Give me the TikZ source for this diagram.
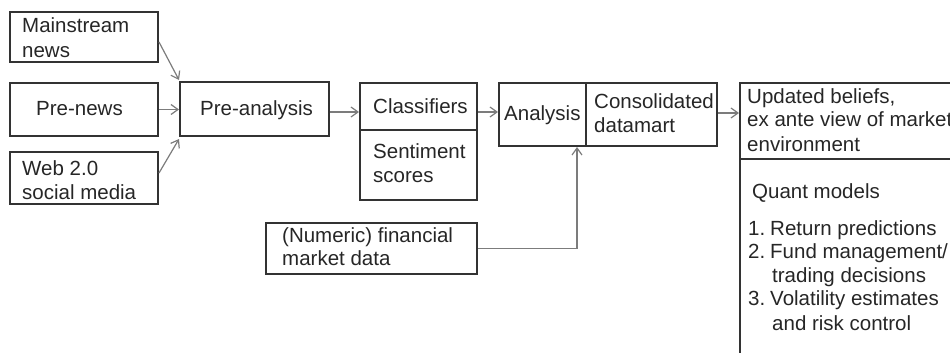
\documentclass[tikz,border=0pt]{standalone}
\usepackage{fontspec}
\setmainfont{Liberation Sans}
\usetikzlibrary{arrows.meta,calc}
\definecolor{boxline}{HTML}{333333}
\definecolor{arrowline}{HTML}{7C7C7C}
\definecolor{inktext}{HTML}{262626}

\begin{document}
\begin{tikzpicture}[x=1pt,y=-1pt,
  frame/.style={draw=boxline, line width=2pt, inner sep=0pt, minimum width=#1},
  txt/.style={inner sep=0pt, anchor=base west, text=inktext,
              font=\fontsize{20.5}{24}\selectfont},
  flow/.style={draw=arrowline, line width=1.2pt,
               -{Straight Barb[length=7pt,width=10pt]}}
]
\useasboundingbox (0,0) rectangle (950,353);
\clip (0,0) rectangle (950,353);

% source boxes
\node[frame=148pt, minimum height=50pt] (ms)  at (84,37)    {};
\node[frame=148pt, minimum height=53pt] (pn)  at (84,109.5) {};
\node[frame=148pt, minimum height=52pt] (web) at (84,178)   {};

% processing chain
\node[frame=149pt, minimum height=54pt] (pa)   at (254.5,109)   {};
\node[frame=117pt, minimum height=47pt] (cls)  at (418.5,106.5) {};
\node[frame=117pt, minimum height=70pt] (sent) at (418.5,165)   {};
\node[frame=87pt,  minimum height=63pt] (ana)  at (542.5,114.5) {};
\node[frame=131pt, minimum height=63pt] (cdm)  at (651.5,114.5) {};
\node[frame=211pt, minimum height=51pt] (num)  at (371.5,248.5) {};

% outcome panel
\node[frame=230pt, minimum height=76pt]  (bel) at (855,121)   {};
\node[frame=230pt, minimum height=211pt] (qm)  at (855,264.5) {};

% labels
\node[txt] (tms1) at (22,33)  {Mainstream};
\node[txt] (tms2) at (22,57)  {news};
\node[txt] (tpn)  at (36,115) {Pre-news};
\node[txt] (tw1)  at (22,175) {Web 2.0};
\node[txt] (tw2)  at (22,199) {social media};
\node[txt] (tpa)  at (200,115) {Pre-analysis};
\node[txt] (tcls) at (373,113) {Classifiers};
\node[txt] (ts1)  at (373,158) {Sentiment};
\node[txt] (ts2)  at (373,182) {scores};
\node[txt] (tana) at (504,120) {Analysis};
\node[txt] (tc1)  at (594,108) {Consolidated};
\node[txt] (tc2)  at (594,132) {datamart};
\node[txt] (tn1)  at (282,242) {(Numeric) financial};
\node[txt] (tn2)  at (282,265) {market data};
\node[txt] (tb1)  at (747,103) {Updated beliefs,};
\node[txt] (tb2)  at (747,126) {ex ante view of market};
\node[txt] (tb3)  at (747,151) {environment};
\node[txt] (tq)   at (752,198) {Quant models};
\node[txt] (tl1)  at (748,235) {1.};
\node[txt] (tl1b) at (770,235) {Return predictions};
\node[txt] (tl2)  at (748,258) {2.};
\node[txt] (tl2b) at (770,258) {Fund management/};
\node[txt] (tl2c) at (772,282) {trading decisions};
\node[txt] (tl3)  at (748,305) {3.};
\node[txt] (tl3b) at (770,305) {Volatility estimates};
\node[txt] (tl3c) at (772,330) {and risk control};

% connectors
\draw[flow] ($(ms.east)+(0,5)$) -- ($(pa.north west)+(0,-1)$);
\draw[flow] (pn.east) -- (pn.east -| pa.west);
\draw[flow] ($(web.east)+(0,-5)$) -- ($(pa.south west)+(0,2)$);
\draw[flow] ($(pa.east)+(0,3)$) coordinate (pa-out) -- (pa-out -| cls.west);
\draw[flow] ($(sent.north east)+(0,-17)$) coordinate (cls-out) -- (cls-out -| ana.west);
\draw[flow] ($(cdm.east)+(0,-1.5)$) coordinate (cdm-out) -- (cdm-out -| bel.west);
\draw[flow] (num.east) -| ($(cdm.south west)+(-8,0)$);
\end{tikzpicture}
\end{document}
